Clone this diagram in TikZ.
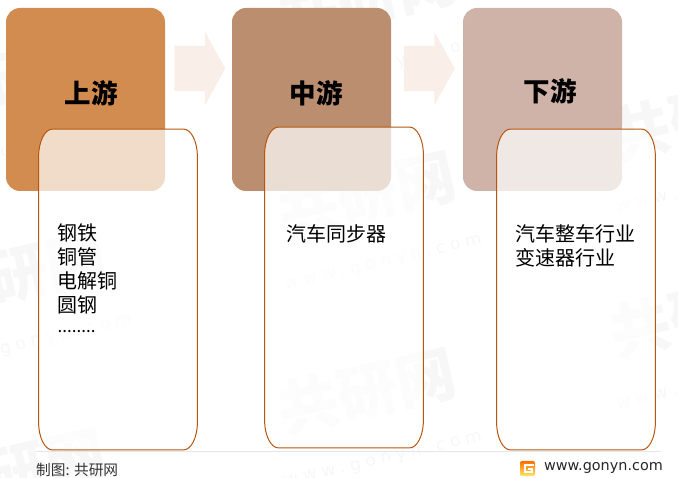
\documentclass[tikz,border=0pt]{standalone}
\usepackage{fontspec}
\usetikzlibrary{positioning, shapes.arrows}
\setmainfont{Noto Sans CJK SC}
\newfontfamily\latinfont{DejaVu Sans}
\definecolor{upcol}{HTML}{D38C4F}
\definecolor{midcol}{HTML}{BA8E6E}
\definecolor{downcol}{HTML}{D0B3A8}
\definecolor{framecol}{HTML}{B8560F}
\definecolor{arrowcol}{HTML}{F9EEE8}
\definecolor{wmcol}{HTML}{F7F7F7}

% frame with flattened corners
\newcommand{\detailframe}[1]{
  \draw[framecol, line width=1pt, fill=white, fill opacity=0.7]
    ([xshift=14pt]#1.north west) -- ([xshift=-14pt]#1.north east)
    arc[start angle=90, end angle=0, x radius=14pt, y radius=28pt]
    -- ([yshift=28pt]#1.south east)
    arc[start angle=0, end angle=-90, x radius=14pt, y radius=28pt]
    -- ([xshift=14pt]#1.south west)
    arc[start angle=270, end angle=180, x radius=14pt, y radius=28pt]
    -- ([yshift=-28pt]#1.north west)
    arc[start angle=180, end angle=90, x radius=14pt, y radius=28pt]
    -- cycle;
}

\begin{document}
\begin{tikzpicture}[x=1pt,y=-1pt,on grid,
    stagebox/.style={rectangle, rounded corners=14pt, minimum width=159pt, minimum height=183pt, inner sep=0pt},
    detailbox/.style={rectangle, minimum width=158.5pt, minimum height=320.5pt, inner sep=0pt},
    stagelabel/.style={font=\fontsize{26.5}{26.5}\selectfont\bfseries, inner sep=0pt},
    detailtext/.style={font=\fontsize{20}{24}\selectfont, align=left, anchor=north west, inner sep=0pt},
    flowarrow/.style={single arrow, fill=arrowcol, minimum height=51pt, single arrow head extend=14pt, single arrow head indent=0pt, single arrow tip angle=122, inner sep=0pt},
    watermark/.style={text=wmcol, rotate=13, inner sep=0pt, align=center}]
  \useasboundingbox (0,0) rectangle (678,478);

  % watermarks
  \foreach \wx/\wy [count=\wi] in {373/21, 23/101, 705/141, 373/218, 23/298, 705/338, 373/415, 23/495}
    \node[watermark, font=\fontsize{60}{60}\selectfont\bfseries] (wm\wi) at (\wx,\wy)
      {共研网\\[-8pt]{\latinfont\mdseries\fontsize{17}{17}\selectfont w\hspace{5pt}w\hspace{5pt}w\hspace{5pt}.\hspace{5pt}g\hspace{5pt}o\hspace{5pt}n\hspace{5pt}y\hspace{5pt}n\hspace{5pt}.\hspace{5pt}c\hspace{5pt}o\hspace{5pt}m}};

  \node[stagebox, fill=upcol] (up) at (85.5,99.5) {};
  \node[stagebox, fill=midcol] (mid) [right=226pt of up] {};
  \node[stagebox, fill=downcol] (down) [right=231pt of mid] {};

  \node[flowarrow] (flow1) at (193.5,68.5) {\rule{0pt}{45pt}};
  \node[flowarrow] (flow2) [right=229.5pt of flow1] {\rule{0pt}{45pt}};

  \node[stagelabel] (upLabel) at (91,93) {上游};
  \node[stagelabel] (midLabel) at (316,93) {中游};
  \node[stagelabel] (downLabel) at (550,91) {下游};

  \node[detailbox] (upDetail) at (118,289.5) {};
  \node[detailbox] (midDetail) at (344,287.5) {};
  \node[detailbox] (downDetail) at (576,289.5) {};
  \detailframe{upDetail}
  \detailframe{midDetail}
  \detailframe{downDetail}

  \node[detailtext] (upText) at (57.5,224) {钢铁\\铜管\\电解铜\\圆钢\\\raisebox{4pt}{\fontsize{17}{24}\selectfont ........}};
  \node[detailtext] (midText) at (286.5,224) {汽车同步器};
  \node[detailtext] (downText) at (515,224) {汽车整车行业\\变速器行业};

  % footer
  \coordinate (ruleL) at (36,451.5);
  \coordinate (ruleR) at (661,451.5);
  \draw[black!10, line width=0.8pt] (ruleL) -- (ruleR);
  \node[anchor=west, inner sep=0pt, text=black!80, font=\fontsize{14.7}{14.7}\selectfont] (credit) at (36,469.5) {制图: 共研网};
  \node[anchor=east, inner sep=0pt, text=black!85, font=\latinfont\fontsize{14.4}{14.4}\selectfont] (site) at (663,467.5) {www.gonyn.com};
  \node[rectangle, rounded corners=2pt, minimum size=15pt, inner sep=0pt, top color=orange!85!red, bottom color=orange!30!yellow!60] (logo) at (527.5,468.5) {};
  \draw[white, line width=2pt] ([shift={(6,-3.5)}]logo.center) -- ([shift={(-3,-3.5)}]logo.center) -- ([shift={(-3,3.5)}]logo.center) -- ([shift={(4,3.5)}]logo.center) -- ([shift={(4,0.5)}]logo.center) -- ([shift={(0.5,0.5)}]logo.center);
\end{tikzpicture}
\end{document}
